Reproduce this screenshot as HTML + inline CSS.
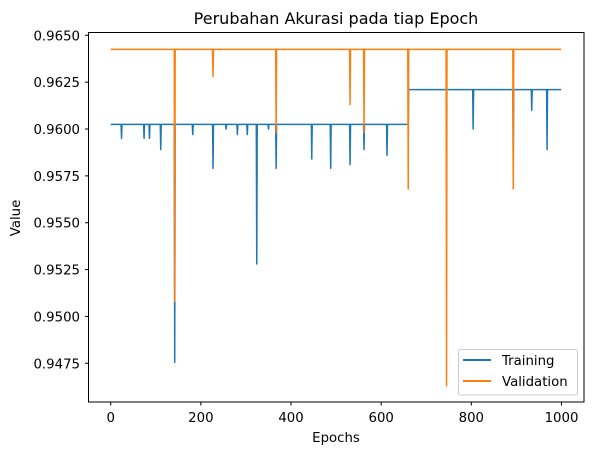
<!DOCTYPE html>
<html><head><meta charset="utf-8"><style>
body{margin:0;background:#fff}
svg text{font-family:"DejaVu Sans","Liberation Sans",sans-serif;fill:#000}
</style></head><body>
<svg id="chart" width="593" height="455" viewBox="0 0 593 455">
<rect width="593" height="455" fill="#fff"/>
<text x="336" y="24" font-size="16" text-anchor="middle">Perubahan Akurasi pada tiap Epoch</text>
<g id="yticks"></g>
<g id="xticks"></g>
<text x="336" y="442" font-size="13.3" text-anchor="middle">Epochs</text>
<text transform="translate(20,218) rotate(-90)" font-size="13.3" text-anchor="middle">Value</text>
<g id="series"></g>
<rect x="88.5" y="32.5" width="495.5" height="369.5" fill="none" stroke="#000" stroke-width="1"/>
<g>
<rect x="458.5" y="349.5" width="119" height="45.5" rx="2" fill="#fff" fill-opacity="0.8" stroke="#ccc"/>
<line x1="463" y1="360" x2="491" y2="360" stroke="#1f77b4" stroke-width="2"/>
<text x="502" y="365" font-size="13.3">Training</text>
<line x1="463" y1="381" x2="491" y2="381" stroke="#ff7f0e" stroke-width="2"/>
<text x="502" y="386" font-size="13.3">Validation</text>
</g>
</svg>
<script>
const yTicks=[0.9650,0.9625,0.9600,0.9575,0.9550,0.9525,0.9500,0.9475];
const xTicks=[0,200,400,600,800,1000];
const nEpochs=1000;
const trainBase1=0.96025, trainBase2=0.9621, trainJumpEpoch=661;
const trainDipEpochs=[24,74,86,111,142,182,227,256,281,303,324,350,367,446,488,531,562,613,804,893,934,968];
const trainDipValues=[0.9595,0.9595,0.9595,0.9589,0.94755,0.9597,0.9579,0.9600,0.9597,0.9597,0.9528,0.9600,0.9579,0.9584,0.9579,0.9581,0.9589,0.9586,0.9600,0.9581,0.9610,0.9589];
const valBase=0.96425;
const valDipEpochs=[142,227,367,531,562,660,745,893];
const valDipValues=[0.9508,0.9628,0.9598,0.9613,0.9598,0.9568,0.9463,0.9568];

const X=e=>110.7+e*0.4508;
const Y=v=>35.3+(0.9650-v)/0.0025*46.86;
const NS='http://www.w3.org/2000/svg';
function mk(t,a,p){const el=document.createElementNS(NS,t);for(const k in a)el.setAttribute(k,a[k]);p.appendChild(el);return el;}
const yg=document.getElementById('yticks'),xg=document.getElementById('xticks'),sg=document.getElementById('series');
yTicks.forEach(v=>{
 const l=mk('line',{x1:85,x2:88.5,y1:Y(v),y2:Y(v),stroke:'#000'},yg);
 
 
 const t=mk('text',{x:80,y:Y(v)+5,'font-size':13.3,'text-anchor':'end'},yg);
 t.textContent=v.toFixed(4);
 
 
});
xTicks.forEach(v=>{
 const l=mk('line',{x1:X(v),x2:X(v),y1:402,y2:405.5,stroke:'#000'},xg);
 
 
 const t=mk('text',{x:X(v),y:422,'font-size':13.3,'text-anchor':'middle'},xg);
 t.textContent=v;
 
 
});
function build(baseFn,dE,dV){
 const vals=[];for(let e=0;e<nEpochs;e++)vals.push(baseFn(e));
 dE.forEach((e,i)=>{vals[e]=dV[i];});
 return vals.map((v,e)=>X(e).toFixed(2)+','+Y(v).toFixed(2)).join(' ');
}
const tr=mk('polyline',{points:build(e=>e<trainJumpEpoch?trainBase1:trainBase2,trainDipEpochs,trainDipValues),fill:'none',stroke:'#1f77b4','stroke-width':1.5,'stroke-linejoin':'round'},sg);


const va=mk('polyline',{points:build(e=>valBase,valDipEpochs,valDipValues),fill:'none',stroke:'#ff7f0e','stroke-width':1.5,'stroke-linejoin':'round'},sg);


</script>
</body></html>
